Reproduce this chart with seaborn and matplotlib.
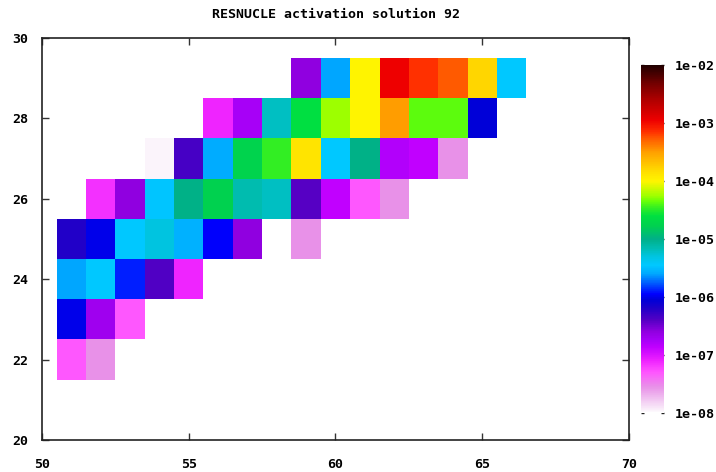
import numpy as np
import pandas as pd
import matplotlib
matplotlib.use("Agg")
import matplotlib.pyplot as plt
from matplotlib.colors import LinearSegmentedColormap, LogNorm
from matplotlib.ticker import NullLocator
import seaborn as sns

# Activation per nuclide: each row is one proton number Z, starting at neutron number n_start
z_rows = [22, 23, 24, 25, 26, 27, 28, 29]
n_start = [51, 51, 51, 51, 52, 54, 56, 59]
act_z22 = [5.0e-8, 2.8e-8]
act_z23 = [1.0e-6, 2.0e-7, 5.0e-8]
act_z24 = [2.5e-6, 3.5e-6, 1.3e-6, 4.2e-7, 7.9e-8]
act_z25 = [6.3e-7, 1.0e-6, 3.5e-6, 5.0e-6, 2.8e-6, 1.1e-6, 2.5e-7, np.nan, 2.8e-8]
act_z26 = [7.1e-8, 2.5e-7, 3.4e-6, 1.0e-5, 1.7e-5, 7.1e-6, 6.3e-6, 4.0e-7, 1.35e-7, 5.0e-8, 2.8e-8]
act_z27 = [1.1e-8, 4.5e-7, 2.6e-6, 1.8e-5, 3.4e-5, 1.3e-4, 3.5e-6, 1.0e-5, 1.6e-7, 1.35e-7, 2.8e-8]
act_z28 = [7.9e-8, 1.8e-7, 6.3e-6, 2.5e-5, 5.6e-5, 1.0e-4, 3.2e-4, 4.2e-5, 4.2e-5, 8.9e-7]
act_z29 = [2.5e-7, 2.5e-6, 1.0e-4, 1.1e-3, 7.1e-4, 5.4e-4, 1.6e-4, 3.5e-6]
activations = [act_z22, act_z23, act_z24, act_z25, act_z26, act_z27, act_z28, act_z29]

cbar_ticks = [1e-8, 1e-7, 1e-6, 1e-5, 1e-4, 1e-3, 1e-2]
cbar_labels = ["1e-08", "1e-07", "1e-06", "1e-05", "1e-04", "1e-03", "1e-02"]
x_ticks = [50, 55, 60, 65, 70]
y_ticks = [20, 22, 24, 26, 28, 30]
title = "RESNUCLE activation solution 92"

# Full grid N=50..70, Z=20..30 so that the axes span 50-70 / 20-30
n_vals = np.arange(50, 71)
z_vals = np.arange(20, 31)
grid = pd.DataFrame(np.nan, index=z_vals, columns=n_vals)
for z, n0, row in zip(z_rows, n_start, activations):
    for k, v in enumerate(row):
        grid.loc[z, n0 + k] = v

# Rainbow palette from white (1e-8) to black (1e-2), stops given in log10 units
stops = [
    (-8.00, "#ffffff"), (-7.95, "#faf0fa"), (-7.75, "#f0c0f0"), (-7.55, "#e890e8"),
    (-7.30, "#ff55ff"), (-7.10, "#ee22ff"), (-6.87, "#c000ff"), (-6.75, "#a800f8"),
    (-6.60, "#9000e0"), (-6.40, "#5500c4"), (-6.20, "#2000c8"), (-6.05, "#0000d8"),
    (-5.95, "#0000ff"), (-5.85, "#0030ff"), (-5.60, "#00a8ff"), (-5.45, "#00c8ff"),
    (-5.30, "#00c4e0"), (-5.15, "#00bcb0"), (-5.00, "#00b088"), (-4.78, "#00d050"),
    (-4.60, "#00e040"), (-4.45, "#38f020"), (-4.35, "#66ff08"), (-4.25, "#a0ff00"),
    (-4.00, "#fff500"), (-3.85, "#ffe000"), (-3.50, "#ffa000"), (-3.25, "#ff5500"),
    (-3.15, "#ff3000"), (-2.95, "#ee0000"), (-2.60, "#b00000"), (-2.30, "#700000"),
    (-2.00, "#200000"),
]
cmap = LinearSegmentedColormap.from_list(
    "activation", [((lv + 8.0) / 6.0, c) for lv, c in stops], N=512)

sns.set_theme(style="white")
plt.rcParams["font.family"] = ["DejaVu Sans Mono"]
plt.rcParams["font.weight"] = "bold"
plt.rcParams["text.color"] = "black"

fig = plt.figure(figsize=(7.16, 4.72), dpi=100)
ax = fig.add_axes([42 / 716, 1 - 440 / 472, 587 / 716, 402 / 472])
cax = fig.add_axes([641 / 716, 1 - 413 / 472, 23 / 716, 348 / 472])

sns.heatmap(grid, ax=ax, cbar_ax=cax, cmap=cmap,
            norm=LogNorm(vmin=1e-8, vmax=1e-2),
            xticklabels=False, yticklabels=False, linewidths=0)

# cell for N sits at N-49.5 and Z at Z-19.5 in heatmap coordinates
ax.set_xlim(0.5, 20.5)
ax.set_ylim(0.5, 10.5)
ax.set_xticks([t - 49.5 for t in x_ticks])
ax.set_xticklabels([str(t) for t in x_ticks], rotation=0)
ax.set_yticks([t - 19.5 for t in y_ticks])
ax.set_yticklabels([str(t) for t in y_ticks], rotation=0)
ax.set_xlabel("")
ax.set_ylabel("")
for s in ax.spines.values():
    s.set_visible(True)
    s.set_color("#222222")
    s.set_linewidth(1.2)
ax.tick_params(axis="both", which="major", direction="in", length=5, width=1,
               color="#333333", top=True, right=True, bottom=True, left=True,
               labelsize=9.5, labelcolor="black")
ax.tick_params(axis="x", pad=13)
ax.tick_params(axis="y", pad=10)

cbar = ax.collections[0].colorbar
cbar.outline.set_visible(False)
cbar.set_ticks(cbar_ticks)
cbar.set_ticklabels(cbar_labels)
cax.yaxis.set_minor_locator(NullLocator())
cax.tick_params(axis="y", which="major", direction="in", length=2, width=1,
                left=True, right=True, labelsize=9.5, pad=8, color="#222222",
                labelcolor="black")

fig.text(335.5 / 716, 1 - 15 / 472, title, ha="center", va="center",
         fontsize=9.5, fontweight="bold", color="black")

fig.savefig("out.png", dpi=100)
